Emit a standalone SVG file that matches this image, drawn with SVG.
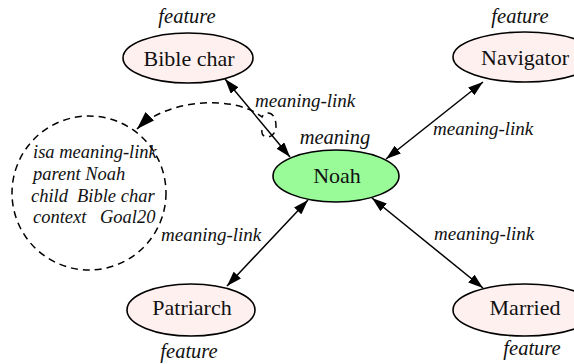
<svg xmlns="http://www.w3.org/2000/svg" width="574" height="364" viewBox="0 0 574 364">
  <style>
    .feat { fill: #fff0f0; stroke: #000; stroke-width: 1.6; }
    .main { fill: #98fb98; stroke: #000; stroke-width: 1.6; }
    .name { font-family: "Liberation Serif", "Times New Roman", serif; font-size: 22px; text-anchor: middle; fill: #111; }
    .tag { font-family: "Liberation Serif", "Times New Roman", serif; font-size: 19px; font-style: italic; fill: #111; }
    .kind { font-family: "Liberation Serif", "Times New Roman", serif; font-size: 20.5px; font-style: italic; text-anchor: middle; fill: #111; }
    .slot { font-family: "Liberation Serif", "Times New Roman", serif; font-size: 18.5px; font-style: italic; fill: #111; }
    .edge { stroke: #000; stroke-width: 1.5; fill: none; }
    .dash { stroke: #000; stroke-width: 1.5; fill: none; stroke-dasharray: 7 5; }
  </style>
  <defs>
    <marker id="arrow" markerUnits="userSpaceOnUse" markerWidth="15" markerHeight="10" refX="15" refY="5" orient="auto-start-reverse">
      <path d="M0,0 L15,5 L0,10 z" fill="#000"/>
    </marker>
    <marker id="arrowBig" markerUnits="userSpaceOnUse" markerWidth="18" markerHeight="12" refX="18" refY="6" orient="auto">
      <path d="M0,0 L18,6 L0,12 z" fill="#000"/>
    </marker>
  </defs>

  <rect width="574" height="364" fill="#fff"/>

  <!-- connectors -->
  <g id="connectors">
    <line class="edge" x1="225" y1="79" x2="290" y2="157" marker-start="url(#arrow)" marker-end="url(#arrow)"/>
    <line class="edge" x1="483" y1="82" x2="386" y2="159" marker-start="url(#arrow)" marker-end="url(#arrow)"/>
    <line class="edge" x1="308" y1="200" x2="227" y2="286" marker-start="url(#arrow)" marker-end="url(#arrow)"/>
    <line class="edge" x1="372" y1="198" x2="483" y2="288" marker-start="url(#arrow)" marker-end="url(#arrow)"/>
    <path class="dash" d="M 262,130 C 260,140 276,140 276,126 C 276,112 266,110 262,117 C 235,95 168,98 137,129" marker-end="url(#arrowBig)"/>
    <text class="tag" x="255" y="107">meaning-link</text>
    <text class="tag" x="433" y="135">meaning-link</text>
    <text class="tag" x="161" y="241">meaning-link</text>
    <text class="tag" x="434" y="240">meaning-link</text>
  </g>

  <!-- link description -->
  <g id="link-frame">
    <circle class="dash" cx="89" cy="193" r="77"/>
    <text class="slot" x="33" y="158">isa meaning-link</text>
    <text class="slot" x="33" y="180">parent Noah</text>
    <text class="slot" y="202"><tspan x="31">child</tspan><tspan x="77">Bible char</tspan></text>
    <text class="slot" y="223"><tspan x="33">context</tspan><tspan x="100">Goal20</tspan></text>
  </g>

  <g id="bible-char">
    <ellipse class="feat" cx="188" cy="58" rx="65" ry="25"/>
    <text class="name" x="189" y="66">Bible char</text>
    <text class="kind" x="187" y="23">feature</text>
  </g>

  <g id="navigator">
    <ellipse class="feat" cx="525" cy="57" rx="72" ry="25"/>
    <text class="name" x="525" y="65">Navigator</text>
    <text class="kind" x="520" y="23">feature</text>
  </g>

  <g id="noah">
    <ellipse class="main" cx="336" cy="176" rx="63" ry="26"/>
    <text class="name" x="337" y="183">Noah</text>
    <text class="kind" x="335" y="144">meaning</text>
  </g>

  <g id="patriarch">
    <ellipse class="feat" cx="191" cy="310" rx="64" ry="26"/>
    <text class="name" x="192" y="315">Patriarch</text>
    <text class="kind" x="189" y="358">feature</text>
  </g>

  <g id="married">
    <ellipse class="feat" cx="525" cy="310" rx="72" ry="26"/>
    <text class="name" x="525" y="315">Married</text>
    <text class="kind" x="532" y="355">feature</text>
  </g>
</svg>
